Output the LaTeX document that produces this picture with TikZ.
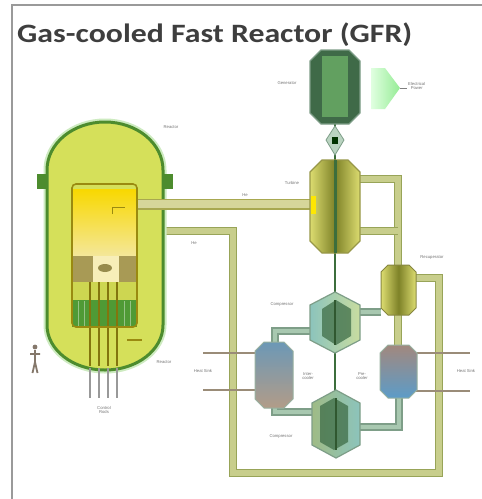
\documentclass[tikz,border=0pt]{standalone}
\usepackage{fontspec}
\setmainfont{Carlito}
\newfontfamily\labfont{Liberation Sans}
\definecolor{vesselline}{HTML}{4D8C2E}
\definecolor{vesselfill}{HTML}{D5E05A}
\definecolor{halo}{HTML}{CDEBC0}
\definecolor{barrel}{HTML}{9A8A10}
\definecolor{coreY}{HTML}{F8D800}
\definecolor{coreP}{HTML}{F4E79A}
\definecolor{blockB}{HTML}{A89A55}
\definecolor{rodG}{HTML}{4F9A35}
\definecolor{pipeO}{HTML}{98A458}
\definecolor{pipeI}{HTML}{C8CE8C}
\definecolor{hotO}{HTML}{A8A850}
\definecolor{hotI}{HTML}{D6D69A}
\definecolor{tealO}{HTML}{7E9E88}
\definecolor{tealI}{HTML}{A8C8B0}
\definecolor{shaftc}{HTML}{3C6E3C}
\definecolor{labgray}{HTML}{767676}
\definecolor{titlec}{HTML}{3E3E3E}
\definecolor{framec}{HTML}{9A9A9A}
\definecolor{genO}{HTML}{3F6A48}
\definecolor{genI}{HTML}{62A060}
\definecolor{compL}{HTML}{8CC4BC}
\definecolor{compM}{HTML}{3F6E48}
\definecolor{compR}{HTML}{C8DCA0}
\definecolor{icTop}{HTML}{6C98B6}
\definecolor{icBot}{HTML}{B29C88}
\definecolor{pcTop}{HTML}{A2887E}
\definecolor{pcBot}{HTML}{5C9CC8}
\definecolor{turbS}{HTML}{DCDC70}
\definecolor{turbM}{HTML}{7E8228}
\definecolor{sinkc}{HTML}{9A8C78}
\newcommand\octpath[5]{({#1+#5},#2) -- ({#3-#5},#2) -- (#3,{#2+#5}) -- (#3,{#4-#5}) -- ({#3-#5},#4) -- ({#1+#5},#4) -- (#1,{#4-#5}) -- (#1,{#2+#5}) -- cycle}
\tikzset{
  lbl/.style={font=\labfont\fontsize{4.2}{4.6}\selectfont, text=labgray, inner sep=0pt, align=center},
  coldpipe/.style={draw=pipeO, double=pipeI, line width=1.6pt, double distance=5.5pt},
  hotpipe/.style={draw=hotO, double=hotI, line width=1.5pt, double distance=8pt},
  tealpipe/.style={draw=tealO, double=tealI, line width=1.4pt, double distance=4.5pt},
  sinkline/.style={draw=sinkc, line width=2pt},
}
\begin{document}
\begin{tikzpicture}[x=1pt,y=-1pt]
\useasboundingbox (0,0) rectangle (482,499);
\fill[white] (0,0) rectangle (482,499);
% frame
\draw[framec, line width=1.6pt] (12,499) -- (12,5) -- (482,5);
% title
\node[anchor=base west, inner sep=0pt, xscale=1.2, font=\fontsize{26.5}{30}\selectfont\bfseries, text=titlec] (title) at (17,42) {Gas-cooled Fast Reactor (GFR)};

% ---------- shaft ----------
\coordinate (shaftTop) at (335,120);
\coordinate (shaftBot) at (335,456);
\draw[shaftc, line width=2.6pt] (shaftTop) -- (shaftBot);

% ---------- cold return pipe ----------
\coordinate (vesC) at (160,231);
\coordinate (c1) at (233,231);
\coordinate (c2) at (233,473);
\coordinate (c3) at (439,473);
\coordinate (c4) at (439,278);
\coordinate (recR) at (416,278);
\draw[coldpipe] (vesC) -- (c1) -- (c2) -- (c3) -- (c4) -- (recR);

% ---------- turbine exhaust pipes ----------
\coordinate (t1) at (358,179);
\coordinate (t2) at (398,179);
\coordinate (recT) at (398,266);
\coordinate (t3) at (358,231);
\coordinate (t4) at (398,231);
\draw[coldpipe] (t1) -- (t2) -- (recT);
\draw[coldpipe] (t3) -- (t4);

% ---------- compressor side pipes ----------
\coordinate (uc1) at (358,312);
\coordinate (rec1) at (381,312);
\draw[tealpipe] (uc1) -- (rec1);
\coordinate (recB) at (398,314);
\coordinate (preT) at (398,346);
\draw[coldpipe] (recB) -- (preT);
\coordinate (preB) at (399,397);
\coordinate (p1) at (399,427);
\coordinate (lc1) at (358,427);
\draw[tealpipe] (preB) -- (p1) -- (lc1);
\coordinate (ucL) at (311,331);
\coordinate (i1) at (275,331);
\coordinate (icT) at (275,344);
\draw[tealpipe] (ucL) -- (i1) -- (icT);
\coordinate (icB) at (275,406);
\coordinate (i2) at (275,412);
\coordinate (lcL) at (314,412);
\draw[tealpipe] (icB) -- (i2) -- (lcL);

% ---------- heat sink lines ----------
\draw[sinkline] (203,353) -- (256,353);
\draw[sinkline] (203,390) -- (256,390);
\draw[sinkline] (416,353) -- (470,353);
\draw[sinkline] (416,391) -- (470,391);

% ---------- reactor vessel ----------
\draw[halo, line width=7pt] (47,325) -- (47,170) arc[start angle=180,end angle=360,x radius=58,y radius=48] -- (163,325) arc[start angle=0,end angle=180,x radius=58,y radius=45] -- cycle;
\fill[vesselline] (37,174) rectangle (49,189);
\fill[vesselline] (161,174) rectangle (173,189);
\filldraw[fill=vesselfill, draw=vesselline, line width=3pt] (47,325) -- (47,170) arc[start angle=180,end angle=360,x radius=58,y radius=48] -- (163,325) arc[start angle=0,end angle=180,x radius=58,y radius=45] -- cycle;
% hot pipe
\coordinate (hotA) at (136,204);
\coordinate (hotB) at (313,204);
\draw[hotpipe] (hotA) -- (hotB);
% core barrel
\shade[top color=coreY, bottom color=coreP] (72,189) rectangle (137,256);
\fill[blockB] (72,256) rectangle (93,282);
\fill[blockB] (119,256) rectangle (137,282);
\fill[coreP!70!white] (93,256) rectangle (119,282);
\fill[blockB!90!black] (105,268) ellipse[x radius=7, y radius=4];
\fill[vesselfill!90!olive] (72,282) rectangle (137,300);
\fill[rodG] (72,300) rectangle (137,327);
\foreach \xx in {78,84,124,130} \draw[rodG!60!white, line width=1pt] (\xx,301) -- (\xx,326);
\foreach \xx in {90,99,108,117} {
  \draw[barrel!85!black, line width=2pt] (\xx,282) -- (\xx,366);
  \draw[gray!80, line width=2pt] (\xx,368) -- (\xx,398);
}
\draw[barrel, line width=1.6pt, rounded corners=4pt] (72,327) -- (72,184) -- (137,184) -- (137,327) -- cycle;
\draw[barrel, line width=1pt] (112,214) -- (112,207) -- (125,207);
\draw[barrel, line width=1.2pt] (127,340) -- (142,340);

% person for scale
\fill[labgray!80!brown] (35,347) circle (2.4);
\draw[labgray!80!brown, line width=1.8pt] (35,350) -- (35,363) (30,354) -- (40,354) (35,362) -- (32.5,373) (35,362) -- (37.5,373);

% ---------- generator ----------
\filldraw[fill=genO, draw=tealO, line width=1.2pt] \octpath{310}{50}{360}{124}{11};
\fill[genI] (322,56) rectangle (348,117);
% coupling
\filldraw[fill=tealI!80!white, draw=tealO, line width=0.8pt] (335,126) -- (344,140) -- (335,155) -- (326,140) -- cycle;
\fill[black!80!green] (332,137) rectangle (338,144);
% electrical power arrow
\shade[left color=green!12!white, right color=green!40!white!85!gray] (371,68) -- (385,68) -- (400,88) -- (385,109) -- (371,109) -- cycle;
\draw[gray, line width=1pt] (400,88) -- (407,88);

% ---------- turbine ----------
\shade[left color=turbS, right color=turbS, middle color=turbM] \octpath{310}{160}{360}{253}{12};
\draw[hotO!90!black, line width=1.2pt] \octpath{310}{160}{360}{253}{12};
\fill[yellow!90!orange] (311,196) rectangle (316,214);
\draw[shaftc, line width=3pt] (335,160) -- (335,253);

% ---------- recuperator ----------
\shade[left color=turbS, right color=turbS, middle color=turbM] \octpath{381}{265}{416}{315}{7};
\draw[hotO!80!black, line width=1pt] \octpath{381}{265}{416}{315}{7};

% ---------- compressors ----------
\shade[left color=compL, middle color=compM, right color=compR] (335,292) -- (360,305) -- (360,340) -- (335,353) -- (310,340) -- (310,305) -- cycle;
\fill[compM, opacity=0.75] (336,300) -- (351,309) -- (351,336) -- (336,345) -- (322,336) -- (322,309) -- cycle;
\draw[tealO, line width=1.2pt] (335,292) -- (360,305) -- (360,340) -- (335,353) -- (310,340) -- (310,305) -- cycle;
\shade[left color=compR!70!compM, middle color=compM, right color=compL] (336,390) -- (360,403) -- (360,445) -- (336,458) -- (312,445) -- (312,403) -- cycle;
\fill[compM, opacity=0.75] (334,398) -- (348,406) -- (348,442) -- (334,450) -- (320,442) -- (320,406) -- cycle;
\draw[tealO, line width=1.2pt] (336,390) -- (360,403) -- (360,445) -- (336,458) -- (312,445) -- (312,403) -- cycle;
\draw[shaftc!80!black, line width=2.6pt] (335,300) -- (335,345) (336,398) -- (336,450);

% ---------- intercooler & precooler ----------
\shade[top color=icTop, bottom color=icBot] \octpath{255}{342}{293}{408}{9};
\draw[tealO!80!white, line width=1pt] \octpath{255}{342}{293}{408}{9};
\shade[top color=pcTop, bottom color=pcBot] \octpath{380}{345}{417}{398}{8};
\draw[tealO!80!white, line width=1pt] \octpath{380}{345}{417}{398}{8};

% ---------- labels ----------
\node[lbl] (lReactor) at (171,127) {Reactor};
\node[lbl] (lGen) at (287,83) {Generator};
\node[lbl, anchor=west] (lPower) at (408,86) {Electrical\\Power};
\node[lbl] (lTurb) at (292,183) {Turbine};
\node[lbl] (lHot) at (245,195) {He};
\node[lbl] (lCold) at (194,243) {He};
\node[lbl] (lRecup) at (432,257) {Recuperator};
\node[lbl] (lComp1) at (282,304) {Compressor};
\node[lbl] (lComp2) at (281,436) {Compressor};
\node[lbl] (lSinkL) at (203,371) {Heat Sink};
\node[lbl] (lSinkR) at (466,371) {Heat Sink};
\node[lbl] (lInter) at (308,376) {Inter-\\cooler};
\node[lbl] (lPre) at (362,376) {Pre-\\cooler};
\node[lbl] (lRods) at (104,410) {Control\\Rods};
\node[lbl] (lVessel) at (164,362) {Reactor};
\end{tikzpicture}
\end{document}
